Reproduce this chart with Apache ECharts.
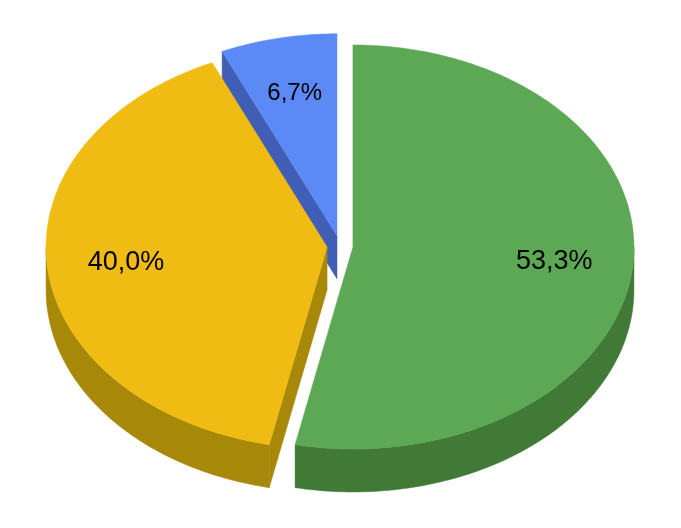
<!DOCTYPE html>
<html><head><meta charset="utf-8">
<script src="https://cdn.jsdelivr.net/npm/echarts@6/dist/echarts.min.js"></script>
<style>html,body{margin:0;padding:0;background:#fff}#c{width:681px;height:528px}</style>
</head><body><div id="c"></div>
<script>
const categories = ['Série 1', 'Série 2', 'Série 3'];
const values = [53.3, 40.0, 6.7];
const topColors = ['#5CA854', '#F0BC14', '#5B89F5'];
const sideColors = ['#417A36', '#A88808', '#405EB5'];

const chart = echarts.init(document.getElementById('c'), null, {renderer: 'canvas'});
const total = values.reduce((a, b) => a + b, 0);
const CX = 340, CY = 246, RX = 281, RY = 202, DEPTH = 43;
const EXPLODE = [13, 13, 14.5];
const LABEL_R = 0.72;
const FONT = [27, 27, 24];
const rad = d => d * Math.PI / 180;

function fmt(v) { return (v / total * 100).toFixed(1).replace('.', ',') + '%'; }

function renderItem(params, api) {
  const i = params.dataIndex;
  let start = 0;
  for (let k = 0; k < i; k++) start += values[k];
  const v = api.value(0);
  const a0 = start / total * 360, a1 = (start + v) / total * 360;
  const am = (a0 + a1) / 2;
  const ex = EXPLODE[i];
  const cx = CX + ex * Math.sin(rad(am));
  const cy = CY - ex * (RY / RX) * Math.cos(rad(am));
  const pt = (t, dy) => [cx + RX * Math.sin(rad(t)), cy - RY * Math.cos(rad(t)) + (dy || 0)];
  const arc = (t0, t1, dy) => {
    const n = Math.max(2, Math.ceil((t1 - t0) / 1));
    const out = [];
    for (let j = 0; j <= n; j++) out.push(pt(t0 + (t1 - t0) * j / n, dy));
    return out;
  };
  const front = -Math.cos(rad(am));
  const base = Math.round((front + 1) * 10) * 10;
  const children = [];
  const side = {fill: sideColors[i], stroke: sideColors[i], lineWidth: 0.5};
  const w0 = Math.max(a0, 90), w1 = Math.min(a1, 270);
  if (w1 > w0) {
    children.push({type: 'polygon', z2: base + 1,
      shape: {points: arc(w0, w1, 0).concat(arc(w0, w1, DEPTH).reverse())}, style: side});
  }
  if (Math.sin(rad(a0)) < -1e-6) {
    const p = pt(a0);
    children.push({type: 'polygon', z2: base + 1,
      shape: {points: [[cx, cy], p, [p[0], p[1] + DEPTH], [cx, cy + DEPTH]]}, style: side});
  }
  if (Math.sin(rad(a1)) > 1e-6) {
    const p = pt(a1);
    children.push({type: 'polygon', z2: base + 1,
      shape: {points: [[cx, cy], p, [p[0], p[1] + DEPTH], [cx, cy + DEPTH]]}, style: side});
  }
  children.push({type: 'polygon', z2: base + 2,
    shape: {points: [[cx, cy]].concat(arc(a0, a1, 0))},
    style: {fill: topColors[i], stroke: topColors[i], lineWidth: 0.5}});
  children.push({type: 'text', z2: 500,
    style: {text: fmt(v),
      x: cx + LABEL_R * RX * Math.sin(rad(am)),
      y: cy - LABEL_R * RY * Math.cos(rad(am)),
      align: 'center', verticalAlign: 'middle',
      font: FONT[i] + 'px "Liberation Sans", Arial, sans-serif', fill: '#000'}});
  return {type: 'group', children: children};
}

chart.setOption({
  backgroundColor: '#fff',
  animation: false,
  series: [{
    type: 'custom',
    coordinateSystem: 'none',
    renderItem: renderItem,
    data: values.map((v, i) => ({name: categories[i], value: [v]}))
  }]
});
</script></body></html>
